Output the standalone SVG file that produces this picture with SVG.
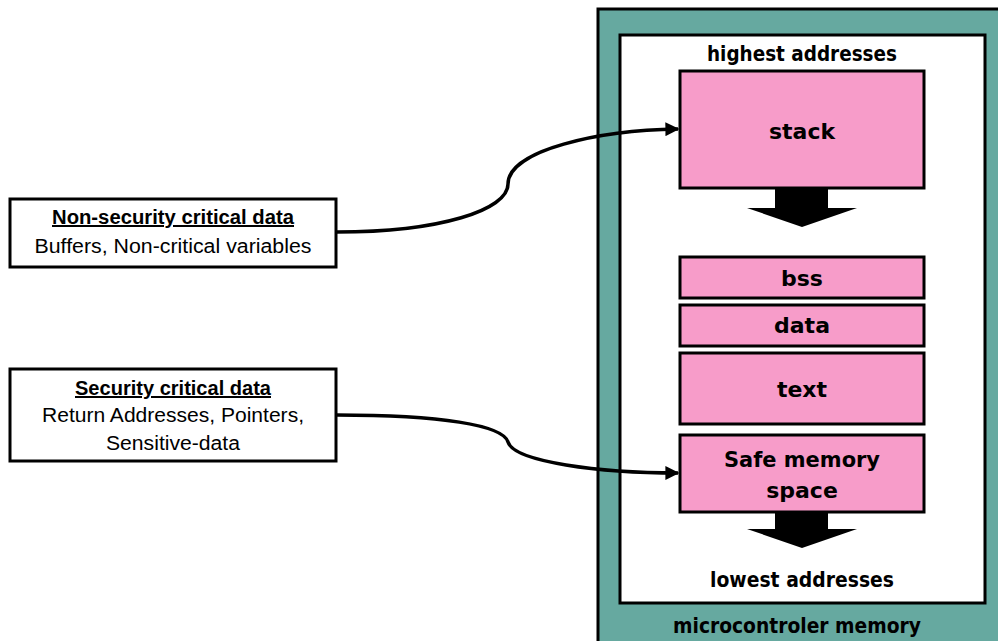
<svg xmlns="http://www.w3.org/2000/svg" width="998" height="641" viewBox="0 0 998 641">
<defs>
<style>
.seg{fill:#f79cc9;stroke:#000;stroke-width:3}
.lbl{font-family:"DejaVu Sans","Liberation Sans",sans-serif;font-weight:bold;font-size:22px;fill:#000;text-anchor:middle}
.side{font-family:"Liberation Sans","Noto Sans",sans-serif;font-size:20px;fill:#000;text-anchor:middle}
.hd{font-weight:bold;text-decoration:underline}
.box{fill:#fff;stroke:#000;stroke-width:3}
.conn{fill:none;stroke:#000;stroke-width:3.5}
</style>
<marker id="ah" viewBox="0 0 10 10" refX="9" refY="5" markerWidth="4" markerHeight="4" orient="auto" markerUnits="strokeWidth">
<path d="M0,0 L10,5 L0,10 z" fill="#000"/>
</marker>
</defs>
<rect width="998" height="641" fill="#fff"/>
<g id="memory">
<rect x="598" y="9" width="420" height="660" fill="#66a9a0" stroke="#000" stroke-width="3"/>
<rect x="620" y="35" width="365" height="568" fill="#fff" stroke="#000" stroke-width="3"/>
<text class="lbl" x="802" y="61" textLength="190" lengthAdjust="spacingAndGlyphs">highest addresses</text>
<text class="lbl" x="802" y="587" textLength="184" lengthAdjust="spacingAndGlyphs">lowest addresses</text>
<text class="lbl" x="797" y="633" textLength="248" lengthAdjust="spacingAndGlyphs">microcontroler memory</text>
</g>
<g id="stack">
<rect class="seg" x="680" y="71" width="244" height="117"/>
<text class="lbl" x="802" y="139">stack</text>
<path d="M775,188 H828 V208 H857 L802,227 L747,208 H775 Z" fill="#000"/>
</g>
<g id="bss">
<rect class="seg" x="680" y="257" width="244" height="41"/>
<text class="lbl" x="802" y="286">bss</text>
</g>
<g id="data">
<rect class="seg" x="680" y="305" width="244" height="41"/>
<text class="lbl" x="802" y="333">data</text>
</g>
<g id="text">
<rect class="seg" x="680" y="353" width="244" height="71"/>
<text class="lbl" x="802" y="397">text</text>
</g>
<g id="safe">
<rect class="seg" x="680" y="435" width="244" height="77"/>
<text class="lbl" x="802" y="467" textLength="156" lengthAdjust="spacingAndGlyphs">Safe memory</text>
<text class="lbl" x="802" y="498">space</text>
<path d="M775,512 H828 V529 H857 L802,548 L747,529 H775 Z" fill="#000"/>
</g>
<g id="nonsec">
<rect class="box" x="10" y="199" width="326" height="68"/>
<text class="side hd" x="173" y="224" textLength="242" lengthAdjust="spacingAndGlyphs">Non-security critical data</text>
<text class="side" x="173" y="253" textLength="277" lengthAdjust="spacingAndGlyphs">Buffers, Non-critical variables</text>
</g>
<g id="sec">
<rect class="box" x="10" y="369" width="326" height="92"/>
<text class="side hd" x="173" y="395" textLength="196" lengthAdjust="spacingAndGlyphs">Security critical data</text>
<text class="side" x="173" y="422" textLength="262" lengthAdjust="spacingAndGlyphs">Return Addresses, Pointers,</text>
<text class="side" x="173" y="450" textLength="134" lengthAdjust="spacingAndGlyphs">Sensitive-data</text>
</g>
<g id="connectors">
<path class="conn" marker-end="url(#ah)" d="M337,232 C440,232 508,210 508,184 C508,150 600,130 678,129"/>
<path class="conn" marker-end="url(#ah)" d="M337,415 C440,415 503,425 508,442 C514,462 600,473 678,473"/>
</g>
</svg>
